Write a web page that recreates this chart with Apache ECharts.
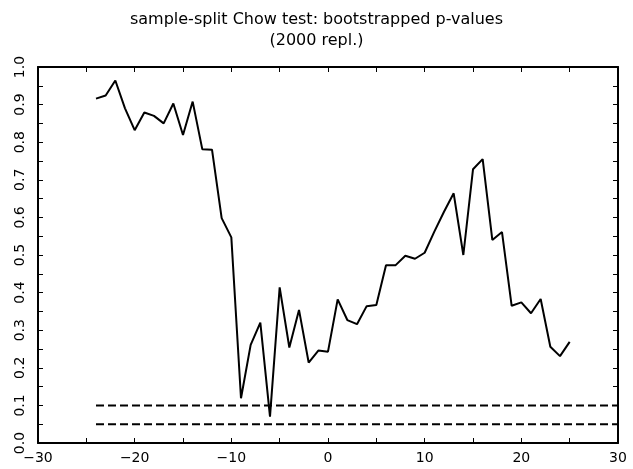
<!DOCTYPE html>
<html>
<head>
<meta charset="utf-8">
<script src="https://cdn.jsdelivr.net/npm/echarts@6/dist/echarts.min.js"></script>
<style>
  html, body { margin: 0; padding: 0; background: #fff; }
  #chart { width: 633px; height: 469px; }
</style>
</head>
<body>
<div id="chart"></div>
<script>
// break dates (sample-split points) and bootstrapped p-values
const splitPoints = [-24, -23, -22, -21, -20, -19, -18, -17, -16, -15, -14, -13, -12, -11, -10,
  -9, -8, -7, -6, -5, -4, -3, -2, -1, 0, 1, 2, 3, 4, 5, 6, 7, 8, 9, 10,
  11, 12, 13, 14, 15, 16, 17, 18, 19, 20, 21, 22, 23, 24, 25];
const pValues = [0.916, 0.924, 0.964, 0.89, 0.832, 0.879, 0.870, 0.850, 0.903, 0.819, 0.908, 0.781, 0.780, 0.598, 0.547,
  0.119, 0.261, 0.320, 0.070, 0.414, 0.254, 0.354, 0.214, 0.246, 0.243, 0.382, 0.327, 0.316, 0.364, 0.367,
  0.473, 0.473, 0.498, 0.490, 0.506, 0.562, 0.615, 0.664, 0.500, 0.728, 0.755, 0.540, 0.561, 0.365, 0.374,
  0.345, 0.383, 0.256, 0.231, 0.269];

// critical levels drawn as dashed lines
const critX = [-24, 30];
const crit10 = 0.10;
const crit05 = 0.05;

const titleText = 'sample-split Chow test: bootstrapped p-values\n(2000 repl.)';

const myChart = echarts.init(document.getElementById('chart'));

const frameLine = { show: true, onZero: false, lineStyle: { color: '#000', width: 2 } };
const tickIn = { show: true, inside: true, length: 5, lineStyle: { color: '#000', width: 1 } };
const minorIn = { show: true, splitNumber: 2, length: 5, lineStyle: { color: '#000', width: 1 } };
const font = 'DejaVu Sans';

function minus(v) {
  return String(v).replace('-', '\u2212');
}

const option = {
  animation: false,
  backgroundColor: '#fff',
  title: {
    text: titleText,
    left: 'center',
    top: 4,
    textStyle: { fontFamily: font, fontSize: 16, fontWeight: 'normal', color: '#000', lineHeight: 21 }
  },
  grid: { left: 38, right: 15, top: 67, bottom: 26 },
  xAxis: [
    {
      type: 'value', min: -30, max: 30, interval: 10, position: 'bottom',
      axisLine: frameLine, axisTick: tickIn, minorTick: minorIn, splitLine: { show: false },
      axisLabel: { color: '#000', fontFamily: font, fontSize: 14, margin: 8, formatter: minus }
    },
    {
      type: 'value', min: -30, max: 30, interval: 10, position: 'top',
      axisLine: frameLine, axisTick: tickIn, minorTick: minorIn, splitLine: { show: false },
      axisLabel: { show: false }
    }
  ],
  yAxis: [
    {
      type: 'value', min: 0, max: 1, interval: 0.1, position: 'left',
      axisLine: frameLine, axisTick: tickIn, minorTick: minorIn, splitLine: { show: false },
      axisLabel: { color: '#000', fontFamily: font, fontSize: 14, rotate: 90, margin: 11,
        formatter: v => v.toFixed(1) }
    },
    {
      type: 'value', min: 0, max: 1, interval: 0.1, position: 'right',
      axisLine: frameLine, axisTick: tickIn, minorTick: minorIn, splitLine: { show: false },
      axisLabel: { show: false }
    }
  ],
  series: [
    {
      type: 'line',
      data: splitPoints.map((x, i) => [x, pValues[i]]),
      symbol: 'none',
      lineStyle: { color: '#000', width: 2 }
    },
    {
      type: 'line',
      data: critX.map(x => [x, crit10]),
      symbol: 'none',
      lineStyle: { color: '#000', width: 2, type: [8, 4] }
    },
    {
      type: 'line',
      data: critX.map(x => [x, crit05]),
      symbol: 'none',
      lineStyle: { color: '#000', width: 2, type: [8, 4] }
    }
  ]
};

option && myChart.setOption(option);
</script>
</body>
</html>
